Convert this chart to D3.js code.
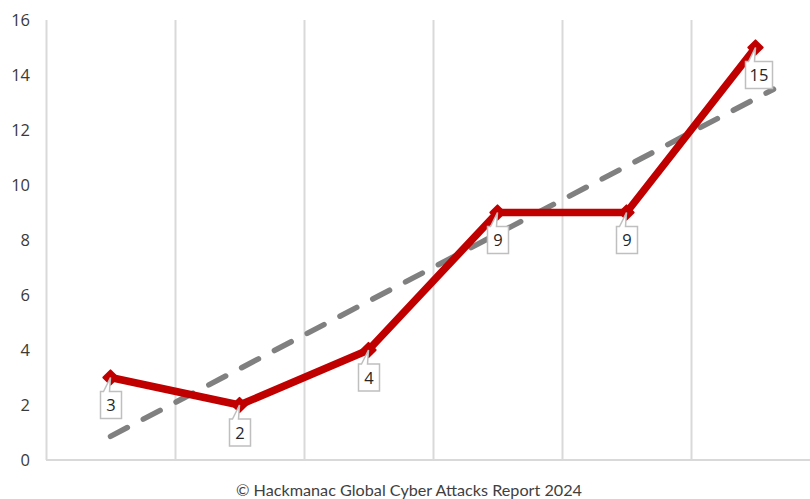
<!DOCTYPE html>
<html>
<head>
<meta charset="utf-8">
<script src="https://cdn.jsdelivr.net/npm/d3@7"></script>
<style>
  body { margin: 0; background: #fff; }
  svg { display: block; }
</style>
</head>
<body>
<div id="chart"></div>
<script>
// data
const periods = ["P1", "P2", "P3", "P4", "P5", "P6"];
const attacks = [3, 2, 4, 9, 9, 15];
// linear trendline, start and end values
const trendEnds = [0.86, 13.14];
const yTicks = [0, 2, 4, 6, 8, 10, 12, 14, 16];
const footer = "© Hackmanac Global Cyber Attacks Report 2024";

const width = 810, height = 499;
const svg = d3.select("#chart").append("svg")
    .attr("width", width)
    .attr("height", height);

const x = d3.scaleBand().domain(periods).range([46, 820]);
const y = d3.scaleLinear().domain([0, 16]).range([460, 20]);
const cx = d => x(d) + x.bandwidth() / 2;

// vertical gridlines at band edges
svg.append("g")
    .selectAll("line")
    .data(periods)
    .join("line")
    .attr("x1", d => Math.round(x(d)) + 0.5)
    .attr("x2", d => Math.round(x(d)) + 0.5)
    .attr("y1", y(16))
    .attr("y2", y(0))
    .attr("stroke", "#d9d9d9")
    .attr("stroke-width", 2);

// bottom axis line
svg.append("line")
    .attr("x1", x.range()[0]).attr("x2", width)
    .attr("y1", y(0)).attr("y2", y(0))
    .attr("stroke", "#d9d9d9")
    .attr("stroke-width", 2);

// y tick labels
const yAxis = d3.axisLeft(y).tickValues(yTicks).tickSize(0).tickPadding(0);
const gy = svg.append("g").attr("transform", "translate(30,0)").call(yAxis);
gy.select(".domain").remove();
gy.selectAll("text")
    .attr("font-family", "'Open Sans', sans-serif")
    .attr("font-size", 16.5)
    .attr("fill", "#3a3a3a");

// trendline, extended a bit past the last point like the original
const ext = 18 / x.bandwidth();
const tSlope = (trendEnds[1] - trendEnds[0]) / (periods.length - 1);
svg.append("line")
    .attr("x1", cx(periods[0]))
    .attr("y1", y(trendEnds[0]))
    .attr("x2", cx(periods[periods.length - 1]) + 18)
    .attr("y2", y(trendEnds[1] + tSlope * ext))
    .attr("stroke", "#808080")
    .attr("stroke-width", 5.5)
    .attr("stroke-linecap", "round")
    .attr("stroke-dasharray", "19 18");

// main series
const line = d3.line().x((d, i) => cx(periods[i])).y(d => y(d));
svg.append("path")
    .datum(attacks)
    .attr("d", line)
    .attr("fill", "none")
    .attr("stroke", "#c00000")
    .attr("stroke-width", 7.5)
    .attr("stroke-linejoin", "round");

svg.append("g")
    .selectAll("path")
    .data(attacks)
    .join("path")
    .attr("d", d3.symbol(d3.symbolDiamond2, 130))
    .attr("transform", (d, i) => `translate(${cx(periods[i])},${y(d)})`)
    .attr("fill", "#c00000")
    .attr("stroke", "#c00000")
    .attr("stroke-width", 2)
    .attr("stroke-linejoin", "round");

// callout labels
const labels = svg.append("g").selectAll("g")
    .data(attacks)
    .join("g")
    .attr("transform", (d, i) => `translate(${cx(periods[i])},${y(d)})`);

labels.each(function (d) {
    const g = d3.select(this);
    const txt = String(d);
    const w = txt.length > 1 ? 27 : 21;
    const h = 27;
    const bx = -10, by = 14;
    const p = `M${bx},${by} L${bx + 3},${by} L0,0 L${bx + 9},${by} L${bx + w},${by} L${bx + w},${by + h} L${bx},${by + h} Z`;
    g.append("path")
        .attr("d", p)
        .attr("fill", "#fff")
        .attr("stroke", "#bfbfbf")
        .attr("stroke-width", 1.5);
    g.append("text")
        .attr("x", bx + w / 2)
        .attr("y", by + h / 2 + 6)
        .attr("text-anchor", "middle")
        .attr("font-family", "'Open Sans', sans-serif")
        .attr("font-size", 16.5)
        .attr("fill", "#262626")
        .text(txt);
});

// footer
svg.append("text")
    .attr("x", 409)
    .attr("y", 496)
    .attr("text-anchor", "middle")
    .attr("font-family", "Lato, 'Open Sans', sans-serif")
    .attr("font-size", 16.2)
    .attr("fill", "#404040")
    .text(footer);
</script>
</body>
</html>
